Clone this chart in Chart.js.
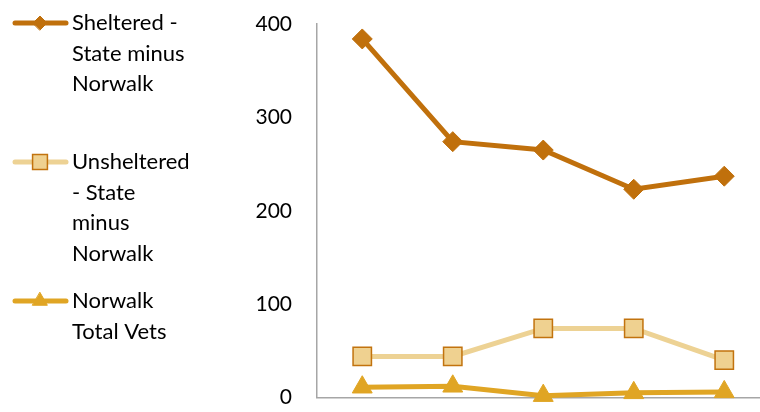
<!DOCTYPE html>
<html>
<head>
<meta charset="utf-8">
<script src="https://cdn.jsdelivr.net/npm/chart.js@4/dist/chart.umd.min.js"></script>
<style>
  html, body { margin: 0; padding: 0; background: #fff; overflow: hidden; }
  #wrap { width: 760px; height: 412px; overflow: hidden; }
</style>
</head>
<body>
<div id="wrap"><canvas id="vetsChart" width="784" height="412"></canvas></div>
<script>
// data (x labels are not shown in the original)
const categories = ['1', '2', '3', '4', '5'];
const shelteredVals = [384, 274, 265, 223, 237];
const unshelteredVals = [44, 44, 74, 74, 40];
const norwalkVals = [11, 12, 2, 5, 6];
const yTicks = [0, 100, 200, 300, 400];

const seriesNames = ['Sheltered - State minus Norwalk', 'Unsheltered - State minus Norwalk', 'Norwalk Total Vets'];
const legendLines = [
  ['Sheltered -', 'State minus', 'Norwalk'],
  ['Unsheltered', '- State', 'minus', 'Norwalk'],
  ['Norwalk', 'Total Vets']
];

const FONT = 'Lato, Calibri, "Open Sans", sans-serif';

// left-hand legend, drawn on the canvas so the text can wrap like the original
const sideLegend = {
  id: 'sideLegend',
  afterDraw(chart) {
    const ctx = chart.ctx;
    const rowY = [23, 162, 301];
    ctx.save();
    chart.data.datasets.forEach((ds, i) => {
      const y = rowY[i];
      ctx.strokeStyle = ds.borderColor;
      ctx.lineWidth = ds.borderWidth;
      ctx.lineCap = 'round';
      ctx.beginPath();
      ctx.moveTo(15, y);
      ctx.lineTo(66, y);
      ctx.stroke();

      ctx.fillStyle = ds.pointBackgroundColor;
      ctx.strokeStyle = ds.pointBorderColor;
      ctx.lineWidth = ds.pointBorderWidth;
      Chart.helpers.drawPoint(ctx, {
        pointStyle: ds.pointStyle,
        radius: ds.legendRadius,
        borderWidth: ds.pointBorderWidth
      }, 40, y);

      ctx.fillStyle = '#000';
      ctx.font = '22px ' + FONT;
      ctx.textBaseline = 'middle';
      ctx.textAlign = 'left';
      legendLines[i].forEach((t, k) => ctx.fillText(t, 72, y + k * 30.7));
    });
    ctx.restore();
  }
};

const ctx = document.getElementById('vetsChart').getContext('2d');
new Chart(ctx, {
  type: 'line',
  data: {
    labels: categories,
    datasets: [
      {
        label: seriesNames[0],
        data: shelteredVals,
        borderColor: '#C0700C',
        borderWidth: 5,
        pointStyle: 'rectRot',
        pointRadius: 10,
        legendRadius: 7,
        pointBackgroundColor: '#C0700C',
        pointBorderColor: '#C0700C',
        pointBorderWidth: 1,
        clip: false
      },
      {
        label: seriesNames[1],
        data: unshelteredVals,
        borderColor: '#EDD294',
        borderWidth: 5,
        pointStyle: 'rect',
        pointRadius: 13,
        legendRadius: 10.5,
        pointBackgroundColor: '#EFD190',
        pointBorderColor: '#C2730E',
        pointBorderWidth: 1.5,
        clip: false
      },
      {
        label: seriesNames[2],
        data: norwalkVals,
        borderColor: '#E0A524',
        borderWidth: 5,
        pointStyle: 'triangle',
        pointRadius: 11.5,
        legendRadius: 8.5,
        pointBackgroundColor: '#E0A524',
        pointBorderColor: '#E0A524',
        pointBorderWidth: 1,
        clip: false
      }
    ]
  },
  options: {
    responsive: false,
    animation: false,
    layout: { padding: { top: 24, bottom: 11, left: 0, right: 0 } },
    plugins: {
      legend: { display: false },
      tooltip: { enabled: false }
    },
    scales: {
      x: {
        offset: true,
        grid: { display: false, drawTicks: false },
        border: { display: true, color: '#A6A6A6', width: 1.5 },
        ticks: { display: false },
        afterFit: s => {
          s.height = 0;
          s.paddingLeft = 0; s.paddingRight = 0; s.paddingTop = 0; s.paddingBottom = 0;
        }
      },
      y: {
        min: 0,
        max: 400,
        afterBuildTicks: s => { s.ticks = yTicks.map(v => ({ value: v })); },
        grid: { display: false, drawTicks: false },
        border: { display: true, color: '#A6A6A6', width: 1.5 },
        ticks: {
          padding: 25,
          color: '#000',
          font: { family: FONT, size: 21 }
        },
        afterFit: s => {
          s.width = 317;
          s.paddingLeft = 0; s.paddingRight = 0; s.paddingTop = 0; s.paddingBottom = 0;
        }
      }
    }
  },
  plugins: [sideLegend]
});
</script>
</body>
</html>
